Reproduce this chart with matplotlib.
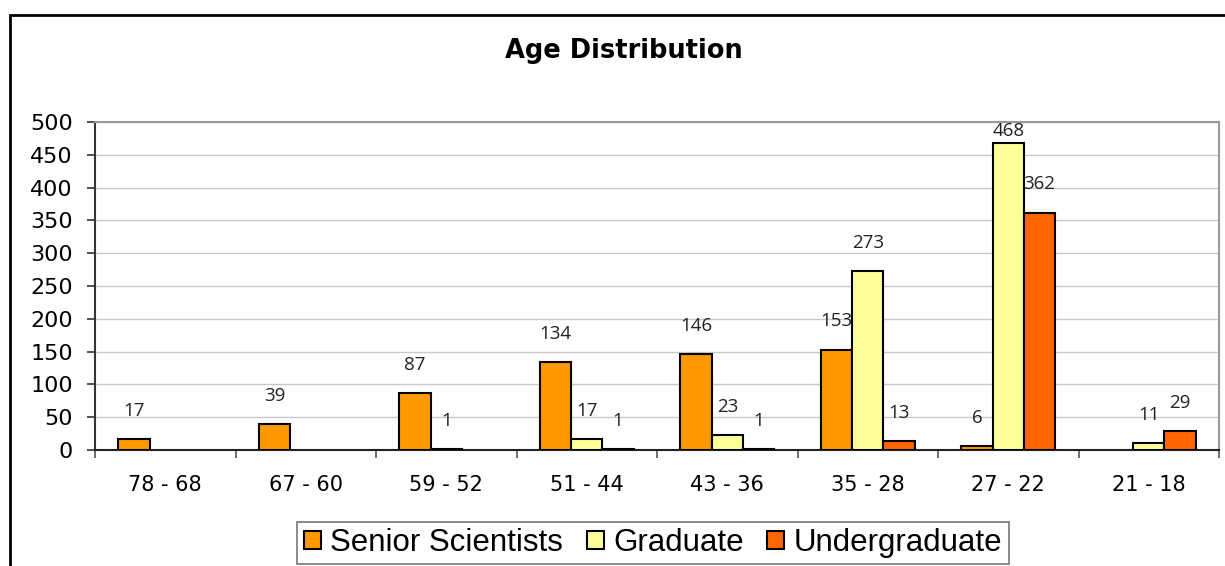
import matplotlib
matplotlib.use("Agg")
import matplotlib.pyplot as plt
import numpy as np
from matplotlib.patches import Rectangle

categories = ["78 - 68", "67 - 60", "59 - 52", "51 - 44", "43 - 36", "35 - 28", "27 - 22", "21 - 18"]
senior = [17, 39, 87, 134, 146, 153, 6, 0]
graduate = [0, 0, 1, 17, 23, 273, 468, 11]
undergrad = [0, 0, 0, 1, 1, 13, 362, 29]
series_names = ["Senior Scientists", "Graduate", "Undergraduate"]
colors = ["#FF9900", "#FFFF99", "#FF6600"]

W, H = 1225, 566
fig = plt.figure(figsize=(W / 100, H / 100), dpi=100)
fig.patch.set_facecolor("white")

# outer chart border (cropped on right/bottom)
fig.patches.append(Rectangle((10 / W, -0.1), 1.2, (H - 15) / H + 0.1, transform=fig.transFigure,
                             fill=False, edgecolor="black", linewidth=2.0, zorder=0))

left, right, top, bottom = 95, 1219, 122, 450
ax = fig.add_axes([left / W, 1 - bottom / H, (right - left) / W, (bottom - top) / H])

n = len(categories)
x = np.arange(n) + 0.5
bw = 0.222
offsets = [-bw, 0, bw]
all_series = [senior, graduate, undergrad]
for vals, name, col, off in zip(all_series, series_names, colors, offsets):
    vals = np.asarray(vals, dtype=float)
    xs = x + off
    mask = vals > 0
    ax.bar(xs[mask], vals[mask], width=bw, color=col, edgecolor="black", linewidth=1.5,
           label=name, zorder=3)
    for xi, v in zip(xs[mask], vals[mask]):
        ly = min(v + 43, 486)
        ax.text(xi, ly, str(int(v)), ha="center", va="center", fontsize=13.5,
                family="Open Sans", color="#222222", zorder=4)

ax.set_xlim(0, n)
ax.set_ylim(0, 500)
ax.set_yticks(np.arange(0, 501, 50))
ax.set_yticklabels([str(v) for v in range(0, 501, 50)], fontsize=16, family="DejaVu Sans")
ax.set_xticks(np.arange(0, n + 1))
ax.set_xticklabels([])
ax.set_xticks(x, minor=True)
ax.set_xticklabels(categories, minor=True, fontsize=15, family="DejaVu Sans")
ax.tick_params(axis="x", which="minor", length=0, pad=18)
ax.tick_params(axis="x", which="major", length=6, width=1.2, color="#555555", direction="out")
ax.tick_params(axis="y", length=6, width=1.2, color="#333333", direction="out", pad=10)

ax.grid(axis="y", color="#C8C8C8", linewidth=1.0, zorder=0)
ax.set_axisbelow(True)
for sp in ["top", "right"]:
    ax.spines[sp].set_color("#999999")
    ax.spines[sp].set_linewidth(1.5)
ax.spines["left"].set_color("#333333")
ax.spines["left"].set_linewidth(1.5)
ax.spines["bottom"].set_color("#222222")
ax.spines["bottom"].set_linewidth(1.5)

fig.text(624 / W, 1 - 51 / H, "Age Distribution", ha="center", va="center",
         fontsize=18.5, fontweight="bold", family="DejaVu Sans")

leg = fig.legend(loc="center", bbox_to_anchor=(653 / W, 1 - 543 / H), ncol=3,
                 prop={"family": "Liberation Sans", "size": 22.5}, frameon=True, fancybox=False,
                 edgecolor="#555555", handlelength=0.55, handleheight=0.55, handletextpad=0.3,
                 columnspacing=0.75, borderpad=0.2)
leg.get_frame().set_linewidth(1.2)

fig.savefig("out.png", dpi=100)
